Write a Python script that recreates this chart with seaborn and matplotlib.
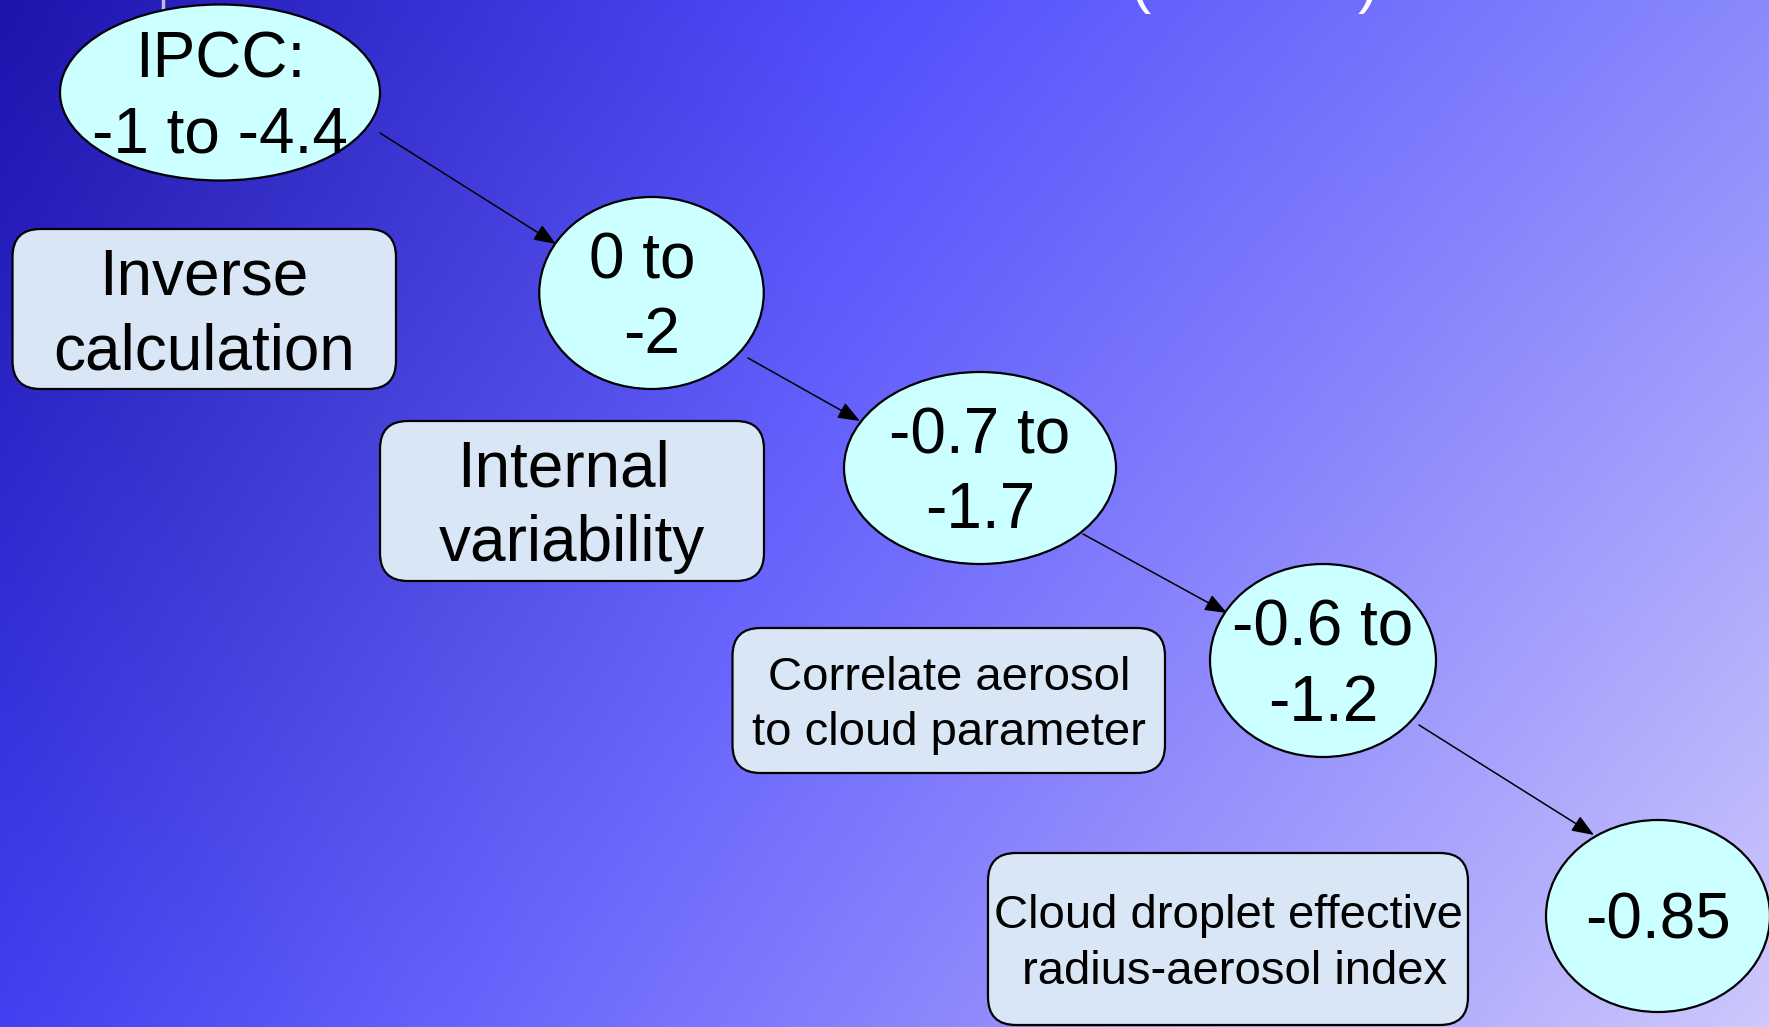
import numpy as np
import matplotlib
matplotlib.use("Agg")
import matplotlib.pyplot as plt
from matplotlib.patches import Ellipse, FancyBboxPatch
import seaborn as sns

# Aerosol indirect forcing estimates (W m^-2), narrowed stage by stage
stage_lines = [["IPCC:", "-1 to -4.4"], ["0 to ", "-2"], ["-0.7 to", "-1.7"],
               ["-0.6 to", "-1.2"], ["-0.85"]]
stage_cx = [220, 651.5, 980, 1323, 1658]
stage_cy = [92.5, 293, 468, 660.5, 916]
stage_w = [320, 224.5, 272, 226, 224]
stage_h = [176, 192, 192, 193, 192]

# Method used for each refinement step
method_lines = [["Inverse", "calculation"], ["Internal ", "variability"],
                ["Correlate aerosol", "to cloud parameter"],
                ["Cloud droplet effective", " radius-aerosol index"]]
method_x0 = [12.5, 380, 732.5, 988]
method_x1 = [396, 764, 1165, 1468]
method_y0 = [229, 421, 628, 853]
method_y1 = [389, 581, 773, 1025]
method_fs = [46, 46, 34, 34]

# Arrows linking consecutive estimates
arrow_start = [(380, 133), (748, 358), (1083, 534), (1419, 725)]
arrow_end = [(556, 244), (860, 421), (1227, 613), (1594, 835)]

sns.set_theme(style="white")
plt.rcParams["font.family"] = ["Liberation Sans", "DejaVu Sans"]

W, H = 1769, 1027
fig = plt.figure(figsize=(W / 100, H / 100), dpi=100)
ax = fig.add_axes([0, 0, 1, 1])
ax.set_xlim(0, W)
ax.set_ylim(H, 0)
ax.axis("off")

# Slide background: dark blue at top-left brightening to lavender at bottom-right
xx, yy = np.meshgrid(np.linspace(0, 1, 400), np.linspace(0, 1, 240))
tl, tr, bl, br = (np.array(c) / 255 for c in [(28, 20, 172), (138, 138, 252),
                                               (66, 64, 242), (206, 200, 252)])
rgb = ((1 - xx)[..., None] * (1 - yy)[..., None] * tl + xx[..., None] * (1 - yy)[..., None] * tr
       + (1 - xx)[..., None] * yy[..., None] * bl + xx[..., None] * yy[..., None] * br)
d = np.sqrt((xx * W / 860) ** 2 + (yy * H / 1174) ** 2)
rgb[..., 2] = (252 - 80 * np.clip(1 - d, 0, 1)) / 255
ax.imshow(np.clip(rgb, 0, 1), extent=(0, W, H, 0), aspect="auto", zorder=0,
          interpolation="bilinear")

# Glint at the top edge and the bottom of the title's brackets
ax.plot([163, 163], [0, 13], color="white", lw=2.5, alpha=0.7, zorder=1)
ax.text(1140, 1, "(", color="white", fontsize=44, ha="center", va="baseline", zorder=1)
ax.text(1368, 1, ")", color="white", fontsize=44, ha="center", va="baseline", zorder=1)


def place_lines(lines, cx, cy, fs):
    em = fs * 100 / 72
    cap = 0.716 * em
    gap = 1.174 * em
    space = 0.278 * em
    n = len(lines)
    b0 = cy + cap / 2 - (n - 1) * gap / 2
    for i, line in enumerate(lines):
        lead = len(line) - len(line.lstrip(" "))
        trail = len(line) - len(line.rstrip(" "))
        x = cx + (lead - trail) * space / 2
        ax.text(x, b0 + i * gap, line.strip(), fontsize=fs, color="black",
                ha="center", va="baseline", zorder=5)


for x0, x1, y0, y1, lines, fs in zip(method_x0, method_x1, method_y0, method_y1,
                                     method_lines, method_fs):
    box = FancyBboxPatch((x0, y0), x1 - x0, y1 - y0,
                         boxstyle="round,pad=0,rounding_size=28",
                         facecolor="#d9e6f5", edgecolor="black", lw=1.6, zorder=3)
    ax.add_patch(box)
    place_lines(lines, (x0 + x1) / 2, (y0 + y1) / 2, fs)

for (sx, sy), (ex, ey) in zip(arrow_start, arrow_end):
    ax.annotate("", xy=(ex, ey), xytext=(sx, sy),
                arrowprops=dict(arrowstyle="-|>,head_length=0.9,head_width=0.35",
                                mutation_scale=15, lw=1.1, color="black",
                                shrinkA=0, shrinkB=0), zorder=4)

for cx, cy, w, h, lines in zip(stage_cx, stage_cy, stage_w, stage_h, stage_lines):
    ax.add_patch(Ellipse((cx, cy), w, h, facecolor="#ccffff", edgecolor="black",
                         lw=1.6, zorder=3))
    place_lines(lines, cx, cy, 46)

fig.savefig("out.png", dpi=100)
